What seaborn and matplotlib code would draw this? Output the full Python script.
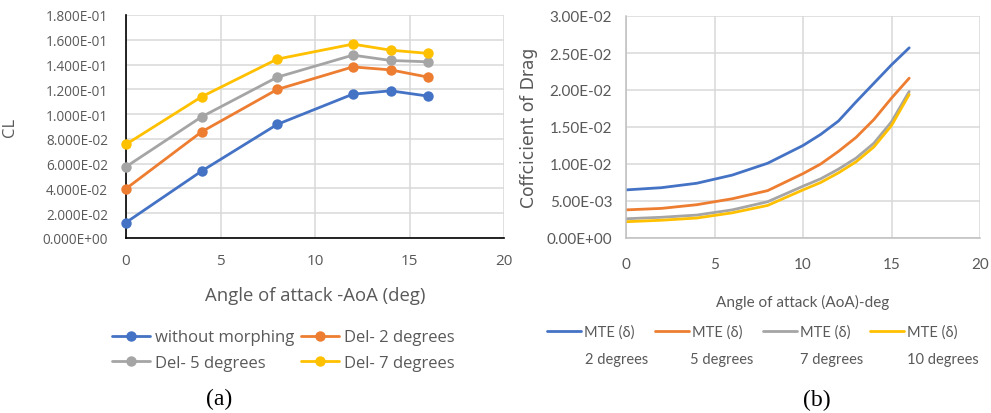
import numpy as np
import pandas as pd
import matplotlib
matplotlib.use("Agg")
import matplotlib.pyplot as plt
from matplotlib.ticker import FuncFormatter, MultipleLocator
import seaborn as sns

# (a) lift coefficient vs angle of attack
aoa_cl = [0, 4, 8, 12, 14, 16]
cl_without = [0.0125, 0.0540, 0.0917, 0.1161, 0.1188, 0.1145]
cl_del2 = [0.0398, 0.0857, 0.1199, 0.1381, 0.1357, 0.1298]
cl_del5 = [0.0575, 0.0978, 0.1298, 0.1476, 0.1433, 0.1422]
cl_del7 = [0.0756, 0.1140, 0.1444, 0.1565, 0.1516, 0.1490]
cl_names = ["without morphing", "Del- 2 degrees", "Del- 5 degrees", "Del- 7 degrees"]

# (b) drag coefficient vs angle of attack
aoa_cd = [0, 2, 4, 6, 8, 10, 11, 12, 13, 14, 15, 16]
cd_mte2 = [0.0065, 0.0068, 0.0074, 0.0085, 0.0101, 0.0125, 0.0140, 0.0158, 0.0184, 0.0209, 0.0234, 0.0257]
cd_mte5 = [0.0038, 0.0040, 0.0045, 0.0053, 0.0064, 0.0087, 0.0100, 0.0117, 0.0136, 0.0160, 0.0189, 0.0216]
cd_mte7 = [0.0026, 0.0028, 0.0031, 0.0038, 0.0049, 0.0070, 0.0080, 0.0093, 0.0108, 0.0128, 0.0157, 0.0198]
cd_mte10 = [0.0022, 0.0024, 0.0027, 0.0034, 0.0044, 0.0065, 0.0075, 0.0088, 0.0103, 0.0123, 0.0152, 0.0194]
cd_names = ["2 degrees", "5 degrees", "7 degrees", "10 degrees"]

colors = ["#4472C4", "#ED7D31", "#A5A5A5", "#FFC000"]

cl_df = pd.concat(
    [pd.DataFrame({"aoa": aoa_cl, "cl": v, "case": n})
     for v, n in zip([cl_without, cl_del2, cl_del5, cl_del7], cl_names)]
)
cd_df = pd.concat(
    [pd.DataFrame({"aoa": aoa_cd, "cd": v, "case": n})
     for v, n in zip([cd_mte2, cd_mte5, cd_mte7, cd_mte10], cd_names)]
)

sns.set_style("white")
plt.rcParams["font.family"] = ["Open Sans", "DejaVu Sans"]
narrow = ["Lato", "DejaVu Sans"]
tick_col = "#595959"
grid_col = "#D9D9D9"

W, H = 991, 414
fig = plt.figure(figsize=(W / 100, H / 100), dpi=100)
ax1 = fig.add_axes([126 / W, 1 - 239 / H, 378 / W, 223 / H])
ax2 = fig.add_axes([626 / W, 1 - 239 / H, 354 / W, 222 / H])

# ---- (a) ----
for (name, sub), c in zip(cl_df.groupby("case", sort=False), colors):
    sns.lineplot(data=sub, x="aoa", y="cl", color=c, marker="o", markersize=7.5,
                 markeredgewidth=0, linewidth=2.0, label=name, ax=ax1,
                 legend=False, clip_on=False, zorder=3)
ax1.set_xlim(0, 20)
ax1.set_ylim(0, 0.18)
ax1.xaxis.set_major_locator(MultipleLocator(5))
ax1.yaxis.set_major_locator(MultipleLocator(0.02))
ax1.yaxis.set_major_formatter(FuncFormatter(lambda v, p: f"{v:.3E}"))
ax1.grid(True, color=grid_col, linewidth=1.1)
ax1.set_axisbelow(True)
for s in ["top", "right"]:
    ax1.spines[s].set_visible(False)
for s in ["left", "bottom"]:
    ax1.spines[s].set_color("black")
    ax1.spines[s].set_linewidth(1.2)
ax1.tick_params(axis="y", length=0, pad=13, labelsize=9.8, labelcolor=tick_col)
ax1.tick_params(axis="x", length=0, pad=11, labelsize=11, labelcolor=tick_col)
ax1.set_ylabel("CL", fontsize=12, color=tick_col)
ax1.yaxis.set_label_coords(-(126 - 18) / 378, 0.5)
ax1.set_xlabel("Angle of attack -AoA (deg)", fontsize=13.3, color=tick_col, va="center")
ax1.xaxis.set_label_coords((315 - 126) / 378, -(296 - 239) / 223)

h1, l1 = ax1.get_legend_handles_labels()
leg_kw = dict(loc="center left", frameon=False, borderpad=0, borderaxespad=0,
              handlelength=2.3, handletextpad=0.3, labelspacing=0.55,
              labelcolor=tick_col, prop={"size": 12})
fig.legend([h1[0], h1[2]], [l1[0], l1[2]], bbox_to_anchor=(112 / W, 1 - 351 / H), **leg_kw)
fig.legend([h1[1], h1[3]], [l1[1], l1[3]], bbox_to_anchor=(301 / W, 1 - 351 / H), **leg_kw)

# ---- (b) ----
for (name, sub), c in zip(cd_df.groupby("case", sort=False), colors):
    sns.lineplot(data=sub, x="aoa", y="cd", color=c, linewidth=2.0,
                 label=name, ax=ax2, legend=False)
ax2.set_xlim(0, 20)
ax2.set_ylim(0, 0.03)
ax2.xaxis.set_major_locator(MultipleLocator(5))
ax2.yaxis.set_major_locator(MultipleLocator(0.005))
ax2.yaxis.set_major_formatter(FuncFormatter(lambda v, p: f"{v:.2E}"))
ax2.grid(True, color=grid_col, linewidth=1.1)
ax2.set_axisbelow(True)
for s in ["top", "right"]:
    ax2.spines[s].set_visible(False)
for s in ["left", "bottom"]:
    ax2.spines[s].set_color("#BFBFBF")
    ax2.spines[s].set_linewidth(1.1)
ax2.tick_params(axis="y", length=0, pad=10, labelsize=11, labelcolor=tick_col)
ax2.tick_params(axis="x", length=0, pad=14, labelsize=11, labelcolor=tick_col)
for t in ax2.get_xticklabels() + ax2.get_yticklabels():
    t.set_family(narrow)
ax2.set_ylabel("Coffcicient of Drag", fontsize=12.3, color=tick_col,
               family=["DejaVu Sans"])
ax2.yaxis.set_label_coords(-(626 - 538) / 354, 0.5)
ax2.set_xlabel("Angle of attack (AoA)-deg", fontsize=11, color=tick_col,
               family=narrow, va="center")
ax2.xaxis.set_label_coords(0.5, -(302 - 239) / 222)

h2, l2 = ax2.get_legend_handles_labels()
handle_x = [547, 655, 763, 870]
text_x = [585, 690, 800, 907]
for h, name, hx, tx in zip(h2, l2, handle_x, text_x):
    fig.legend([h], ["MTE (δ)"], loc="center left", frameon=False, borderpad=0,
               borderaxespad=0, handlelength=2.3, handletextpad=0.25,
               labelcolor=tick_col, prop={"family": narrow, "size": 10.5},
               bbox_to_anchor=(hx / W, 1 - 333 / H))
    fig.text(tx / W, 1 - 360 / H, name, ha="left", va="center", fontsize=10.5,
             color=tick_col, family=narrow)

# captions
fig.text(219 / W, 1 - 399 / H, "(a)", ha="center", va="center", fontsize=17,
         family=["Liberation Serif", "DejaVu Serif"], color="black")
fig.text(817 / W, 1 - 400 / H, "(b)", ha="center", va="center", fontsize=17,
         family=["Liberation Serif", "DejaVu Serif"], color="black")

fig.savefig("out.png", dpi=100)
